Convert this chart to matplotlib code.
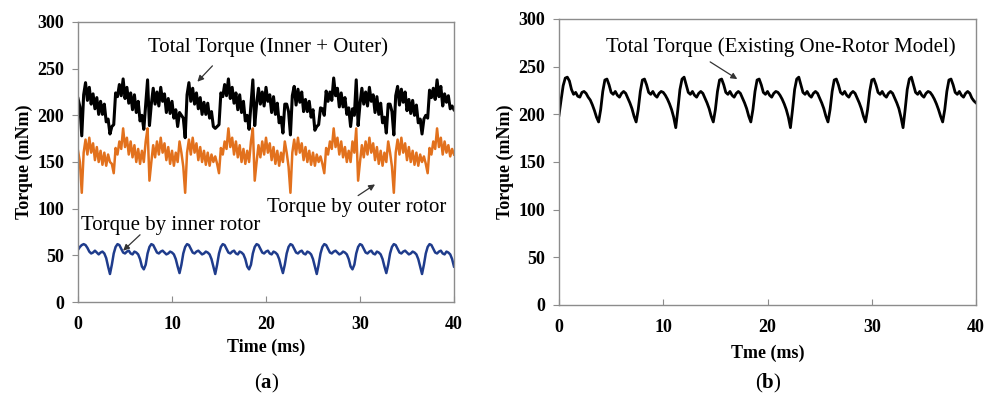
import numpy as np
import matplotlib
matplotlib.use("Agg")
import matplotlib.pyplot as plt

# ---------------------------------------------
# datos (paso 0.2 ms, 0-40 ms)
# ---------------------------------------------
tiempo = np.linspace(0, 40, 201)

par_total = [
    218, 209, 178, 222, 235, 216, 230, 212, 223, 207, 219, 201, 215, 201, 212, 193, 196, 180, 188, 190,
    224, 220, 233, 221, 239, 218, 230, 213, 224, 206, 222, 203, 215, 194, 200, 185, 212, 238, 189, 212,
    229, 212, 225, 210, 230, 215, 223, 203, 218, 202, 215, 197, 206, 188, 203, 200, 197, 176, 222, 235,
    215, 229, 212, 224, 207, 219, 201, 214, 201, 213, 197, 204, 188, 186, 188, 190, 224, 220, 233, 221,
    239, 218, 230, 213, 224, 206, 222, 203, 215, 194, 200, 185, 212, 238, 189, 212, 229, 212, 225, 210,
    230, 215, 222, 203, 220, 201, 213, 192, 198, 181, 212, 212, 204, 179, 221, 231, 211, 228, 214, 225,
    204, 217, 204, 215, 198, 206, 184, 188, 190, 208, 207, 200, 226, 215, 225, 216, 240, 221, 229, 209,
    224, 209, 219, 201, 208, 188, 207, 200, 238, 189, 212, 229, 212, 225, 210, 230, 215, 222, 203, 220,
    201, 213, 192, 198, 181, 212, 212, 204, 179, 221, 231, 211, 228, 214, 225, 205, 217, 202, 216, 200,
    211, 192, 196, 180, 196, 200, 197, 227, 219, 229, 217, 238, 220, 231, 210, 223, 214, 221, 207, 210,
    206,
]

par_exterior = [
    162, 150, 117, 160, 174, 158, 176, 160, 170, 152, 166, 150, 162, 147, 160, 146, 158, 150, 148, 138,
    165, 158, 172, 164, 186, 166, 176, 158, 172, 155, 168, 150, 164, 148, 162, 150, 172, 186, 130, 150,
    168, 155, 172, 158, 176, 160, 170, 152, 166, 148, 162, 146, 160, 150, 172, 160, 145, 117, 160, 174,
    158, 176, 160, 170, 152, 166, 150, 162, 147, 160, 146, 158, 150, 156, 148, 138, 165, 158, 172, 164,
    186, 166, 176, 158, 172, 155, 168, 150, 164, 148, 162, 150, 172, 186, 130, 150, 168, 155, 172, 158,
    176, 160, 170, 152, 166, 148, 162, 146, 160, 150, 172, 160, 145, 117, 160, 174, 158, 176, 160, 170,
    152, 166, 150, 162, 147, 160, 146, 158, 150, 156, 148, 138, 165, 158, 172, 164, 186, 166, 176, 158,
    172, 155, 166, 150, 162, 150, 172, 160, 186, 130, 150, 168, 155, 172, 158, 176, 160, 170, 152, 166,
    148, 162, 146, 160, 150, 172, 160, 145, 117, 160, 174, 158, 176, 160, 170, 152, 166, 150, 162, 147,
    160, 146, 158, 150, 156, 148, 138, 165, 158, 172, 164, 186, 166, 176, 158, 172, 160, 168, 156, 164,
    158,
]

par_interior = [
    56, 59, 61, 62, 61, 58, 54, 52, 53, 55, 53, 51, 53, 54, 52, 47, 38, 30, 40, 52,
    59, 62, 61, 57, 53, 52, 54, 55, 52, 51, 54, 53, 51, 46, 38, 35, 40, 52, 59, 62,
    61, 57, 53, 52, 54, 55, 53, 51, 52, 54, 53, 51, 46, 38, 31, 40, 52, 59, 62, 61,
    57, 53, 52, 54, 55, 53, 51, 52, 54, 53, 51, 46, 38, 30, 40, 52, 59, 62, 61, 57,
    53, 52, 54, 55, 52, 51, 54, 53, 51, 46, 38, 35, 40, 52, 59, 62, 61, 57, 53, 52,
    54, 55, 52, 51, 54, 53, 51, 46, 38, 31, 40, 52, 59, 62, 61, 57, 53, 52, 54, 55,
    52, 51, 54, 53, 51, 46, 38, 30, 40, 52, 59, 62, 61, 57, 53, 52, 54, 55, 53, 51,
    52, 54, 53, 51, 46, 38, 35, 40, 52, 59, 62, 61, 57, 53, 52, 54, 55, 52, 51, 54,
    53, 51, 46, 38, 31, 40, 52, 59, 62, 61, 57, 53, 52, 54, 55, 53, 51, 52, 54, 53,
    51, 46, 38, 30, 40, 52, 59, 62, 61, 57, 53, 52, 54, 55, 52, 51, 54, 53, 51, 46,
    38,
]

par_un_rotor = [
    199, 215, 230, 238, 239, 235, 226, 221, 223, 219, 218, 223, 224, 222, 218, 215, 210, 204, 197, 192,
    205, 224, 236, 237, 231, 223, 221, 224, 220, 218, 222, 224, 222, 217, 212, 206, 198, 192, 205, 224,
    236, 237, 231, 223, 221, 224, 220, 218, 222, 224, 223, 220, 216, 211, 205, 197, 186, 205, 226, 237,
    239, 231, 223, 221, 224, 220, 218, 222, 224, 222, 217, 212, 206, 198, 192, 205, 224, 236, 237, 231,
    223, 221, 224, 220, 218, 222, 224, 222, 217, 212, 206, 198, 192, 205, 224, 236, 237, 231, 223, 221,
    224, 220, 218, 222, 224, 223, 220, 216, 211, 205, 197, 186, 205, 226, 237, 239, 231, 223, 221, 224,
    220, 218, 222, 224, 222, 217, 212, 206, 198, 192, 205, 224, 236, 237, 231, 223, 221, 224, 220, 218,
    222, 224, 222, 217, 212, 206, 198, 192, 205, 224, 236, 237, 231, 223, 221, 224, 220, 218, 222, 224,
    222, 217, 212, 206, 197, 186, 205, 226, 237, 239, 231, 223, 221, 224, 220, 218, 222, 224, 223, 220,
    216, 211, 205, 198, 192, 205, 224, 236, 237, 231, 223, 221, 224, 220, 218, 222, 224, 222, 217, 214,
    212,
]

ticks_x = [0, 10, 20, 30, 40]
ticks_y = [0, 50, 100, 150, 200, 250, 300]

# ---------------------------------------------
# estilo
# ---------------------------------------------
plt.rcParams['font.family'] = ['Liberation Serif', 'DejaVu Serif']
plt.rcParams['mathtext.fontset'] = 'custom'
plt.rcParams['mathtext.rm'] = 'Liberation Serif'
plt.rcParams['mathtext.bf'] = 'Liberation Serif:bold'

gris = '#8c8c8c'
naranja = '#E2711D'
azul = '#1F3C8C'

fig = plt.figure(figsize=(9.85, 3.99), dpi=100)
ax_a = fig.add_axes([0.0792, 0.2431, 0.3817, 0.7018])
ax_b = fig.add_axes([0.5675, 0.2356, 0.4234, 0.7168])


def formato(ax, etiqueta_x, pad_x):
    ax.set_xlim(0, 40)
    ax.set_ylim(0, 300)
    ax.set_xticks(ticks_x)
    ax.set_yticks(ticks_y)
    for s in ax.spines.values():
        s.set_color(gris)
        s.set_linewidth(1.0)
    ax.tick_params(axis='x', direction='in', length=4, color=gris, pad=10)
    ax.tick_params(axis='y', direction='out', length=4, color=gris, pad=6)
    ax.tick_params(labelsize=13)
    for lab in ax.get_xticklabels() + ax.get_yticklabels():
        lab.set_fontweight('bold')
    ax.set_xlabel(etiqueta_x, fontsize=13, fontweight='bold', labelpad=pad_x)
    ax.set_ylabel('Torque (mNm)', fontsize=13, fontweight='bold', labelpad=3)


flecha = dict(arrowstyle='-|>', color='#333333', lw=0.9, mutation_scale=9,
              shrinkA=0, shrinkB=0)

# panel (a)
ax_a.plot(tiempo, par_total, color='black', lw=2.2)
ax_a.plot(tiempo, par_exterior, color=naranja, lw=1.8)
ax_a.plot(tiempo, par_interior, color=azul, lw=1.8)
formato(ax_a, 'Time (ms)', 4)

ax_a.text(20.2, 273, 'Total Torque (Inner + Outer)', fontsize=15, ha='center', va='center')
ax_a.annotate('', xy=(12.7, 236), xytext=(14.3, 253), arrowprops=flecha)
ax_a.text(29.7, 101, 'Torque by outer rotor', fontsize=15, ha='center', va='center')
ax_a.annotate('', xy=(31.6, 126), xytext=(29.8, 114), arrowprops=flecha)
ax_a.text(9.9, 82, 'Torque by inner rotor', fontsize=15, ha='center', va='center')
ax_a.annotate('', xy=(4.8, 55), xytext=(6.6, 72), arrowprops=flecha)

# panel (b)
ax_b.plot(tiempo, par_un_rotor, color='black', lw=2.0)
formato(ax_b, 'Tme (ms)', 6)
ax_b.annotate('', xy=(17.1, 237), xytext=(14.5, 255), arrowprops=flecha)
ax_b.text(21.3, 271, 'Total Torque (Existing One-Rotor Model)', fontsize=15,
          ha='center', va='center')

fig.text(0.271, 0.04, r'($\mathbf{a}$)', fontsize=15, ha='center', va='center')
fig.text(0.780, 0.04, r'($\mathbf{b}$)', fontsize=15, ha='center', va='center')

fig.savefig('out.png', dpi=100)
